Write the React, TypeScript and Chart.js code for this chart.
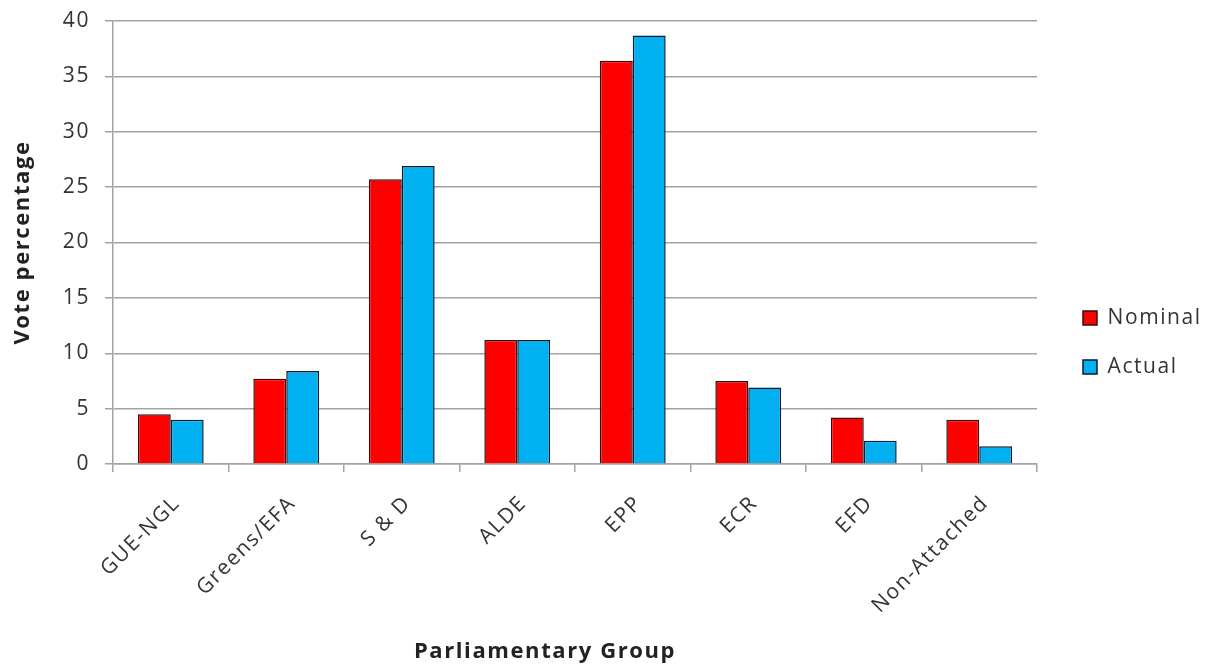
import { useEffect, useRef } from "react";
import { Chart, registerables } from "chart.js";

Chart.register(...registerables);

const categories = ["GUE-NGL", "Greens/EFA", "S & D", "ALDE", "EPP", "ECR", "EFD", "Non-Attached"];
const nominalValues = [4.5, 7.7, 25.7, 11.2, 36.4, 7.5, 4.2, 4.0];
const actualValues = [4.0, 8.4, 26.9, 11.2, 38.7, 6.9, 2.1, 1.6];
const seriesNames = ["Nominal", "Actual"];
const yMin = 0;
const yMax = 40;
const yStep = 5;
const xTitle = "Parliamentary Group";
const yTitle = "Vote percentage";

const FONT = "'Open Sans', sans-serif";
const TEXT = "#333333";
const GRID = "#a3a3a3";
const SPACING = "1.6px";
const LEGEND_WIDTH = 150;

const spacingPlugin = {
  id: "letterSpacing",
  beforeLayout(chart: any) {
    chart.ctx.letterSpacing = SPACING;
    const lg = chart.legend;
    if (lg && !lg._fixedWidth) {
      const orig = lg.fit.bind(lg);
      lg.fit = function () {
        orig();
        this.width = LEGEND_WIDTH;
      };
      lg._fixedWidth = true;
    }
  },
  beforeDraw(chart: any) {
    chart.ctx.letterSpacing = SPACING;
  },
};

const xTitlePlugin = {
  id: "xTitle",
  afterDraw(chart: any) {
    const { ctx, chartArea } = chart;
    ctx.save();
    ctx.letterSpacing = SPACING;
    ctx.font = `bold 22px ${FONT}`;
    ctx.fillStyle = "#222222";
    ctx.textAlign = "center";
    ctx.textBaseline = "middle";
    ctx.fillText(xTitle, (chartArea.left + chartArea.right) / 2 - 30, chart.height - 12);
    ctx.restore();
  },
};

export default function App() {
  const ref = useRef<HTMLCanvasElement | null>(null);

  useEffect(() => {
    if (!ref.current) return;
    const chart = new Chart(ref.current, {
      type: "bar",
      data: {
        labels: categories,
        datasets: [
          {
            label: seriesNames[0],
            data: nominalValues,
            backgroundColor: "#ff0000",
            borderColor: "#3a0a0a",
            borderWidth: 1.5,
            yAxisID: "y",
          },
          {
            label: seriesNames[1],
            data: actualValues,
            backgroundColor: "#00b0f0",
            borderColor: "#0a1a33",
            borderWidth: 1.5,
            yAxisID: "y",
          },
        ],
      },
      options: {
        animation: false,
        responsive: true,
        maintainAspectRatio: false,
        layout: { padding: { top: 21, right: 0, left: 0, bottom: 0 } },
        datasets: { bar: { categoryPercentage: 0.57, barPercentage: 1.0 } },
        plugins: {
          tooltip: { enabled: false },
          legend: {
            position: "right",
            labels: {
              boxWidth: 14,
              boxHeight: 14,
              padding: 28,
              color: TEXT,
              font: { family: FONT, size: 21 },
            },
          },
        },
        scales: {
          x: {
            grid: {
              display: true,
              drawOnChartArea: false,
              drawTicks: true,
              tickLength: 8,
              color: GRID,
              lineWidth: 1.5,
            },
            border: { display: true, color: GRID, width: 1.5 },
            ticks: {
              autoSkip: false,
              maxRotation: 45,
              minRotation: 45,
              padding: 19,
              labelOffset: 6,
              color: TEXT,
              font: { family: FONT, size: 21 },
            },
            afterFit(scale: any) {
              scale.height = 200;
              scale.paddingLeft = 0;
              scale.paddingRight = 0;
            },
          },
          y: {
            position: "left",
            min: yMin,
            max: yMax,
            ticks: {
              stepSize: yStep,
              padding: 15,
              color: TEXT,
              font: { family: FONT, size: 21 },
            },
            grid: {
              color: GRID,
              lineWidth: 1.5,
              drawTicks: true,
              tickLength: 8,
            },
            border: { display: true, color: GRID, width: 1.5 },
            title: {
              display: true,
              text: yTitle,
              color: "#222222",
              padding: { top: 10, bottom: 0 },
              font: { family: FONT, size: 22, weight: "bold" },
            },
            afterFit(scale: any) {
              scale.width = 113;
              scale.paddingTop = 0;
              scale.paddingBottom = 0;
            },
          },
          spacer: {
            type: "linear",
            position: "right",
            display: true,
            grid: { display: false, drawTicks: false },
            border: { display: false },
            ticks: { display: false },
            afterFit(scale: any) {
              scale.width = 18;
              scale.paddingTop = 0;
              scale.paddingBottom = 0;
            },
          },
        },
      } as any,
      plugins: [spacingPlugin, xTitlePlugin],
    });
    return () => chart.destroy();
  }, []);

  return (
    <div style={{ position: "fixed", left: 0, top: 0, width: 1205, height: 664, background: "#ffffff" }}>
      <canvas ref={ref} />
    </div>
  );
}
